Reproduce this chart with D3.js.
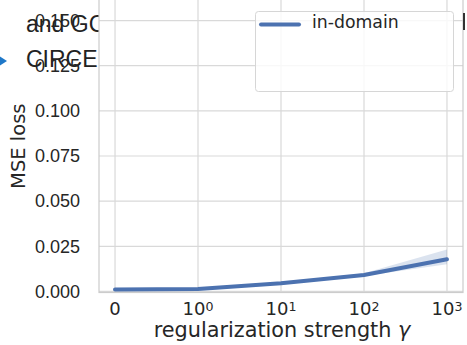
<!DOCTYPE html>
<html><head><meta charset="utf-8">
<script src="https://cdn.jsdelivr.net/npm/d3@7/dist/d3.min.js"></script>
<style>html,body{margin:0;padding:0;background:#fff;overflow:hidden}</style>
</head><body>
<script>
// ---- data ----
const categories = ["0", "10^0", "10^1", "10^2", "10^3"];
const meanLoss  = [0.0010, 0.0013, 0.0045, 0.0091, 0.0178];
const lowerLoss = [0.0008, 0.0010, 0.0040, 0.0085, 0.0150];
const upperLoss = [0.0012, 0.0016, 0.0050, 0.0100, 0.0232];
const yTicks = [0, 0.025, 0.05, 0.075, 0.1, 0.125, 0.15];
const seriesName = "in-domain";

(function () {
const W = 467, H = 345;
const svg = d3.select("body").append("svg").attr("width", W).attr("height", H);

const pL = 99, pR = 463, pT = 0, pB = 292.5;
const x = d3.scaleLinear().domain([-0.193, 4.193]).range([pL, pR]);
const y = d3.scaleLinear().domain([-0.0006, 0.1614]).range([pB, pT]);

const tickColor = "#262626";
const gridColor = "#d9d9d9";

// background page text (overlapping)
const bg = svg.append("g");
bg.append("text").attr("x", 26).attr("y", 31.5).attr("font-family", "Liberation Sans, Arial, sans-serif")
  .attr("font-size", 23).attr("fill", "#222").text("and GC");
bg.append("text").attr("x", 26).attr("y", 66.5).attr("font-family", "Liberation Sans, Arial, sans-serif")
  .attr("font-size", 23).attr("fill", "#222").text("CIRCE");
bg.append("path").attr("d", "M0,56.5 L7,61 L0,65.5 Z").attr("fill", "#1f78c8");

// plot background
svg.append("rect").attr("x", pL).attr("y", pT).attr("width", pR - pL).attr("height", pB - pT)
  .attr("fill", "#fff");

// grid
const g = svg.append("g");
g.selectAll(".hg").data(yTicks).join("line")
  .attr("x1", pL).attr("x2", pR).attr("y1", d => y(d)).attr("y2", d => y(d))
  .attr("stroke", gridColor).attr("stroke-width", 1.2);
g.selectAll(".vg").data(categories).join("line")
  .attr("x1", (d, i) => x(i)).attr("x2", (d, i) => x(i)).attr("y1", pT).attr("y2", pB)
  .attr("stroke", gridColor).attr("stroke-width", 1.2);

// spines
svg.append("rect").attr("x", pL).attr("y", pT - 2).attr("width", pR - pL).attr("height", pB - pT + 2)
  .attr("fill", "none").attr("stroke", "#cccccc").attr("stroke-width", 1.2);

// y axis labels
const yAxis = d3.axisLeft(y).tickValues(yTicks).tickFormat(d3.format(".3f")).tickSize(0).tickPadding(19);
const ya = svg.append("g").attr("transform", `translate(${pL},0)`).call(yAxis);
ya.select(".domain").remove();
ya.selectAll("text").attr("font-family", "Liberation Sans, Arial, sans-serif").attr("font-size", 18)
  .attr("fill", tickColor);

// x axis labels
const xa = svg.append("g");
categories.forEach((c, i) => {
  const t = xa.append("text").attr("x", x(i)).attr("y", 315).attr("text-anchor", "middle")
    .attr("font-family", "DejaVu Sans, sans-serif").attr("font-size", 18).attr("fill", tickColor);
  if (c.includes("^")) {
    const [b, e] = c.split("^");
    t.append("tspan").text(b);
    t.append("tspan").attr("dy", -4.5).attr("font-size", 12.6).text(e);
  } else {
    t.text(c);
  }
});

// axis titles
svg.append("text").attr("x", (pL + pR) / 2 + 1).attr("y", 337).attr("text-anchor", "middle")
  .attr("font-family", "DejaVu Sans, sans-serif").attr("font-size", 20.8).attr("fill", tickColor)
  .html('regularization strength <tspan font-style="italic">γ</tspan>');
svg.append("text").attr("transform", `translate(25,${(pT + pB) / 2}) rotate(-90)`)
  .attr("text-anchor", "middle").attr("font-family", "DejaVu Sans, sans-serif")
  .attr("font-size", 19.5).attr("fill", tickColor).text("MSE loss");

// band and line
const idx = categories.map((c, i) => i);
const area = d3.area().x(i => x(i)).y0(i => y(lowerLoss[i])).y1(i => y(upperLoss[i]));
svg.append("path").datum(idx).attr("d", area).attr("fill", "#4c72b0").attr("fill-opacity", 0.2);
const line = d3.line().x(i => x(i)).y(i => y(meanLoss[i]));
svg.append("path").datum(idx).attr("d", line).attr("fill", "none").attr("stroke", "#4c72b0")
  .attr("stroke-width", 4).attr("stroke-linecap", "round").attr("stroke-linejoin", "round");

// legend
const lg = svg.append("g");
lg.append("rect").attr("x", 255.5).attr("y", 11.5).attr("width", 198).attr("height", 80).attr("rx", 3)
  .attr("fill", "#fff").attr("fill-opacity", 0.8).attr("stroke", "#d6d6d6").attr("stroke-width", 1);
lg.append("line").attr("x1", 261).attr("x2", 299).attr("y1", 24.5).attr("y2", 24.5)
  .attr("stroke", "#4c72b0").attr("stroke-width", 4).attr("stroke-linecap", "round");
lg.append("text").attr("x", 312).attr("y", 28).attr("font-family", "DejaVu Sans, sans-serif")
  .attr("font-size", 17.3).attr("fill", tickColor).text(seriesName);

// cursor mark at right edge
svg.append("rect").attr("x", 463).attr("y", 13).attr("width", 2).attr("height", 17).attr("fill", "#333");
})();
</script>
</body></html>
